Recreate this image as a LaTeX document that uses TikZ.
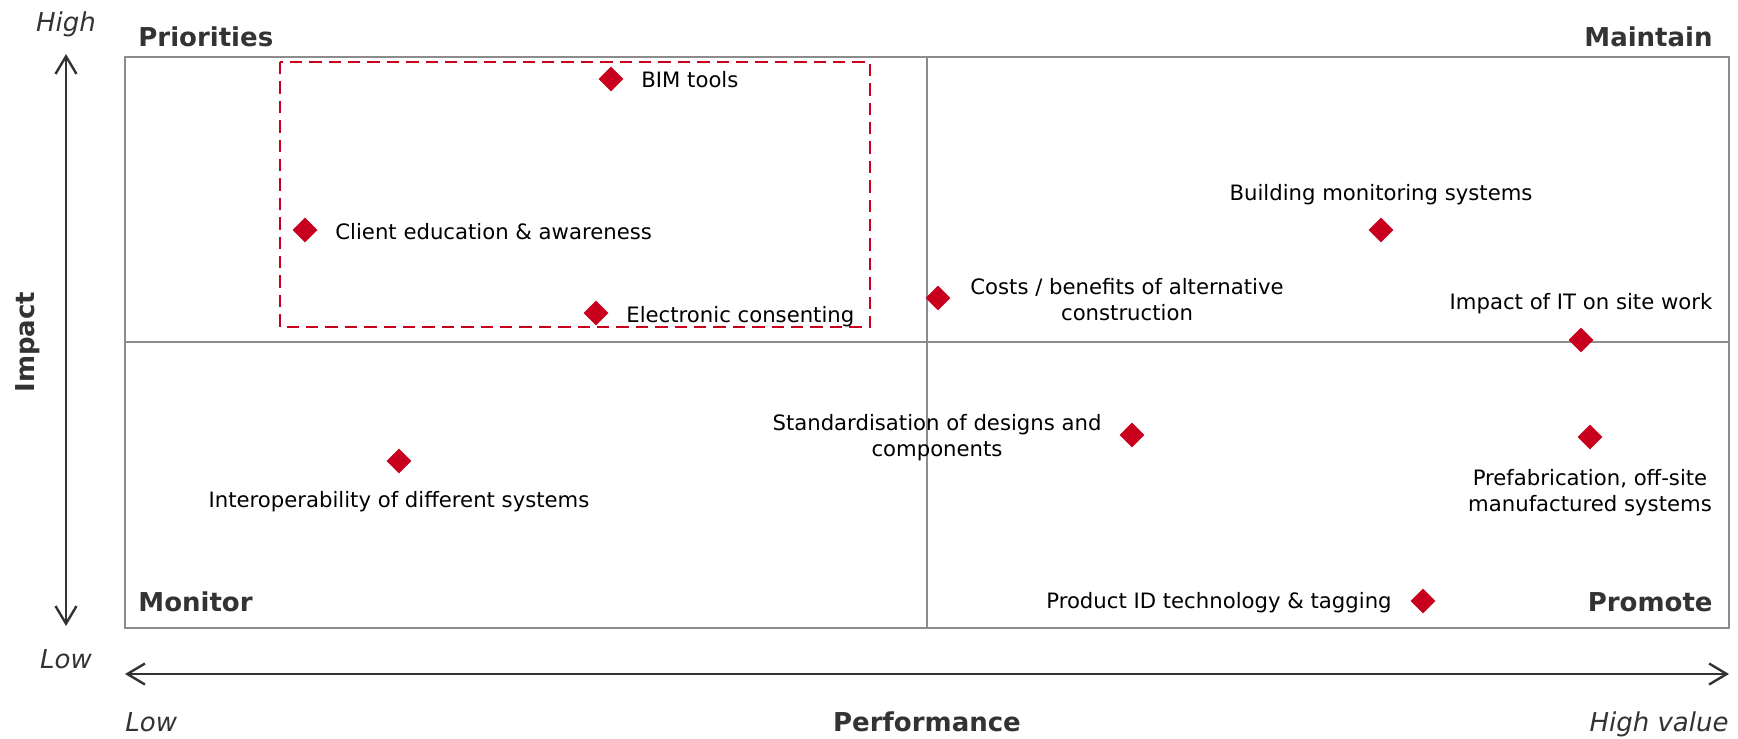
\documentclass[tikz,border=0pt]{standalone}
\usepackage{fontspec}
\setmainfont{DejaVu Sans}
\usetikzlibrary{shapes.geometric,arrows.meta}
\definecolor{markred}{HTML}{C8001E}
\definecolor{gridgrey}{HTML}{8C8C8C}
\definecolor{inkgrey}{HTML}{333333}

\begin{document}
\begin{tikzpicture}[x=0.5pt,y=-0.5pt,
	itemmark/.style={diamond,fill=markred,inner sep=0pt,minimum size=12.6pt},
	itemlbl/.style={inner sep=0pt,align=center,font=\fontsize{10.6}{13}\selectfont},
	quadlbl/.style={inner sep=0pt,text=inkgrey,font=\fontsize{13}{15}\selectfont\bfseries},
	endlbl/.style={inner sep=0pt,text=inkgrey,font=\fontsize{13}{15}\selectfont\itshape},
	axisline/.style={draw=inkgrey,line width=1.2pt,{Straight Barb[length=8.8pt,width=10.5pt]}-{Straight Barb[length=8.8pt,width=10.5pt]}}]
			\useasboundingbox (0,0) rectangle (1738,738);
			% quadrants
			\draw[gridgrey,line width=1pt] (125,57) rectangle (1729,628);
			\draw[gridgrey,line width=1pt] (927,57)--(927,628);
			\draw[gridgrey,line width=1pt] (125,342)--(1729,342);
			\draw[markred,line width=1.25pt,dash pattern=on 6.2pt off 3.5pt] (280,62) rectangle (870,327);
			% axes
			\coordinate (ytop) at (66,54);
			\coordinate (ybot) at (66,626);
			\coordinate (xleft) at (125,674);
			\coordinate (xright) at (1729,674);
			\draw[axisline] (ybot)--(ytop);
			\draw[axisline] (xleft)--(xright);
			\node[endlbl,anchor=base] (yhigh) at (66,32) {High};
			\node[endlbl,anchor=base] (ylow) at (66,668) {Low};
			\node[endlbl,anchor=base west] (xlow) at (125,731) {Low};
			\node[endlbl,anchor=base east] (xhigh) at (1729,731) {High value};
			\node[quadlbl,anchor=base] (perf) at (927,731) {Performance};
			\node[quadlbl,anchor=base,rotate=90] (impact) at (34,342) {Impact};
			\node[quadlbl,anchor=base west] (prio) at (138,47) {Priorities};
			\node[quadlbl,anchor=base east] (maint) at (1713,47) {Maintain};
			\node[quadlbl,anchor=base west] (monit) at (138,611) {Monitor};
			\node[quadlbl,anchor=base east] (promo) at (1713,611) {Promote};
			% items
			\node[itemmark] (bim) at (611,79) {};
			\node[itemlbl,anchor=base west] (bimlbl) at (641,88) {BIM tools};
			\node[itemmark] (client) at (305,230) {};
			\node[itemlbl,anchor=base west] (clientlbl) at (335,239) {Client education \& awareness};
			\node[itemmark] (econs) at (596,313) {};
			\node[itemlbl,anchor=base west] (econslbl) at (626,322) {Electronic consenting};
			\node[itemmark] (costs) at (938,298) {};
			\node[itemlbl,anchor=base] (costslbl) at (1127,320) {Costs / benefits of alternative\\construction};
			\node[itemmark] (bms) at (1381,230) {};
			\node[itemlbl,anchor=base] (bmslbl) at (1381,200) {Building monitoring systems};
			\node[itemmark] (itsite) at (1581,340) {};
			\node[itemlbl,anchor=base] (itsitelbl) at (1581,309) {Impact of IT on site work};
			\node[itemmark] (stand) at (1132,435) {};
			\node[itemlbl,anchor=base] (standlbl) at (937,456) {Standardisation of designs and\\components};
			\node[itemmark] (interop) at (399,461) {};
			\node[itemlbl,anchor=base] (interoplbl) at (399,507) {Interoperability of different systems};
			\node[itemmark] (prefab) at (1590,437) {};
			\node[itemlbl,anchor=base] (prefablbl) at (1590,511) {Prefabrication, off-site\\manufactured systems};
			\node[itemmark] (prodid) at (1423,601) {};
			\node[itemlbl,anchor=base east] (prodidlbl) at (1392,608) {Product ID technology \& tagging};
		\end{tikzpicture}
\end{document}
